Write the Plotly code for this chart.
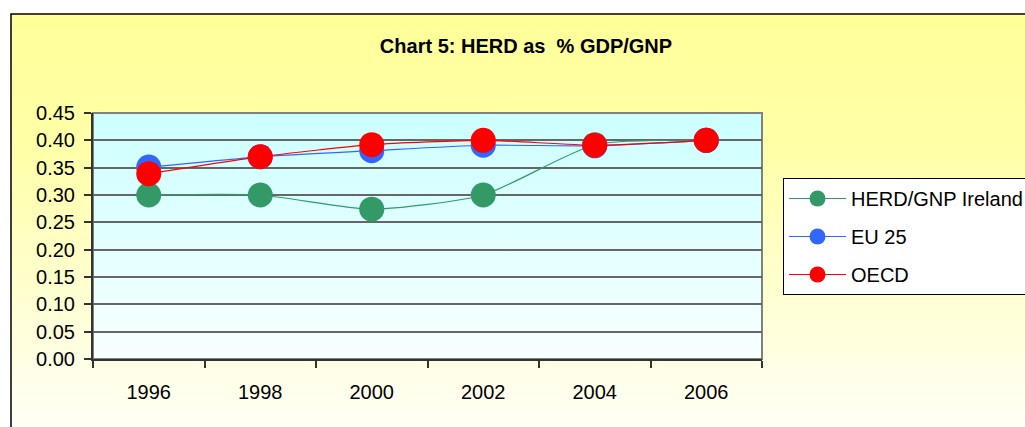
import base64
import plotly.graph_objects as go

# data
years = ["1996", "1998", "2000", "2002", "2004", "2006"]
ireland = [0.30, 0.30, 0.274, 0.30, 0.392, 0.40]
eu25 = [0.351, 0.37, 0.381, 0.391, 0.39, 0.40]
oecd = [0.339, 0.37, 0.392, 0.40, 0.391, 0.40]
y_ticks = [0.0, 0.05, 0.10, 0.15, 0.20, 0.25, 0.30, 0.35, 0.40, 0.45]

FONT = "Liberation Sans, Arial, sans-serif"

# plot area in pixels: left 93, right 762, top 113, bottom 359
W, H = 1025, 427
L, R, T, B = 93, 762, 113, 359


def px_x(px):
    return (px - L) / (R - L)


def px_y(py):
    return (B - py) / (B - T)


def gradient_uri(stops):
    st = "".join(f'<stop offset="{o}" stop-color="{c}"/>' for o, c in stops)
    svg = ('<svg xmlns="http://www.w3.org/2000/svg" width="100" height="100" '
           'viewBox="0 0 100 100" preserveAspectRatio="none">'
           '<defs><linearGradient id="g" x1="0" y1="0" x2="0" y2="1">' + st +
           '</linearGradient></defs><rect width="100" height="100" fill="url(#g)"/></svg>')
    return "data:image/svg+xml;base64," + base64.b64encode(svg.encode()).decode()


fig = go.Figure()

series = [
    ("HERD/GNP Ireland", ireland, "#339966"),
    ("EU 25", eu25, "#3366FF"),
    ("OECD", oecd, "#FF0000"),
]
for name, vals, col in series:
    fig.add_trace(go.Scatter(
        x=years, y=vals, name=name, legendgroup=name,
        mode="lines+markers",
        line=dict(color=col, width=1.2, shape="spline", smoothing=0.6),
        marker=dict(color=col, size=25),
    ))

# chart area (yellow) and plot area (cyan) gradients
ox0, oy0 = px_x(11), px_y(14)
ox1, oy1 = px_x(1060), px_y(460)
fig.add_layout_image(dict(
    source=gradient_uri([(0, "#FFFF99"), (0.3, "#FFFFA8"), (1, "#FFFFFF")]),
    xref="paper", yref="paper", x=ox0, y=oy0, sizex=ox1 - ox0, sizey=oy0 - oy1,
    xanchor="left", yanchor="top", sizing="stretch", layer="below"))
fig.add_layout_image(dict(
    source=gradient_uri([(0, "#CCFFFF"), (1, "#F8FFFF")]),
    xref="paper", yref="paper", x=0, y=1, sizex=1, sizey=1,
    xanchor="left", yanchor="top", sizing="stretch", layer="below"))

# outer chart border
fig.add_shape(type="rect", xref="paper", yref="paper", x0=ox0, y0=oy1, x1=ox1, y1=oy0,
              line=dict(color="#000000", width=1.5), fillcolor="rgba(0,0,0,0)", layer="below")
# plot area border
fig.add_shape(type="rect", xref="paper", yref="paper", x0=0, y0=0, x1=1, y1=1,
              line=dict(color="#808080", width=2), fillcolor="rgba(0,0,0,0)", layer="between")

fig.update_layout(
    width=W, height=H,
    margin=dict(l=L, r=W - R, t=T, b=H - B, autoexpand=False),
    paper_bgcolor="#FFFFFF",
    plot_bgcolor="rgba(0,0,0,0)",
    font=dict(family=FONT, size=20, color="#000000"),
    title=dict(text="<b>Chart 5: HERD as\u00a0 % GDP/GNP</b>",
               x=526 / W, xanchor="center", xref="container",
               y=1 - 46 / H, yanchor="middle", yref="container",
               font=dict(family=FONT, size=20, color="#000000")),
    xaxis=dict(type="category", range=[-0.5, 5.5], tickson="boundaries",
               ticks="outside", ticklen=7, tickcolor="#333333", tickwidth=1.5,
               showgrid=False, showline=True, linecolor="#333333", linewidth=2,
               ticklabelstandoff=14, tickfont=dict(size=20), zeroline=False,
               fixedrange=True),
    yaxis=dict(range=[0, 0.45], tickvals=y_ticks, tickformat=".2f",
               ticks="outside", ticklen=7, tickcolor="#333333", tickwidth=1.5,
               showgrid=True, gridcolor="#666666", gridwidth=2,
               showline=True, linecolor="#333333", linewidth=2, zeroline=False,
               ticklabelstandoff=5, tickfont=dict(size=20), fixedrange=True),
    legend=dict(x=px_x(783), y=px_y(178), xanchor="left", yanchor="top",
                bgcolor="#FFFFFF", bordercolor="#000000", borderwidth=1,
                font=dict(family=FONT, size=20, color="#000000"),
                tracegroupgap=9, itemwidth=57),
    showlegend=True,
)

fig.write_html("out.html", config={"displayModeBar": False},
               post_script="document.body.style.margin='0';")
